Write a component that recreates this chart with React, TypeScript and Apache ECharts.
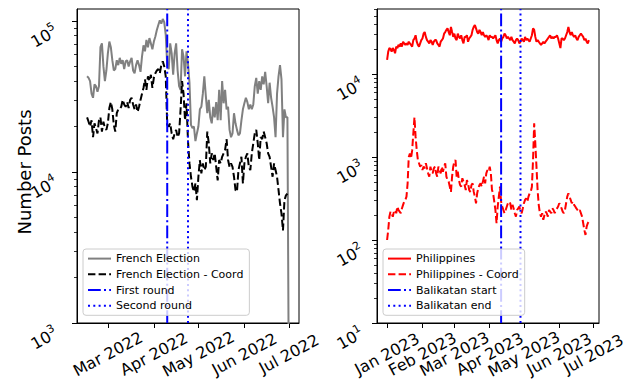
import React, { useEffect, useRef } from "react";
import * as echarts from "echarts";

const FONT = "DejaVu Sans";
const DAY = 86400000;

// ---- Left panel: French election (daily, starting 2022-02-15) ----
const frenchStart = "2022-02-15";
const frenchElection = [
  43000, 42000, 40000, 33000, 31000, 38000, 37000, 34000, 37000, 67000,
  71000, 50000, 40000, 47000, 61000, 73000, 67000, 55000, 47000, 48000,
  55000, 51000, 57000, 52000, 55000, 48000, 54000, 55000, 50000, 54000,
  57000, 47000, 45000, 51000, 55000, 51000, 46000, 58000, 69000, 63000,
  75000, 67000, 77000, 71000, 65000, 73000, 79000, 87000, 94000, 101000,
  96000, 103000, 98000, 81000, 51000, 48000, 71000, 61000, 44000, 61000,
  71000, 47000, 37000, 35000, 65000, 58000, 43000, 63000, 52000, 39000,
  20500, 19500, 20000, 16000, 18000, 20000, 26000, 27000, 33000, 43000,
  32000, 24500, 30000, 23000, 21000, 27000, 23000, 29000, 22000, 35000,
  22000, 40000, 28500, 35000, 26000, 27000, 19000, 17000, 18000, 24500,
  21000, 19000, 17500, 18000, 22000, 26000, 28500, 31000, 29000, 26000,
  28000, 26000, 28000, 37000, 42000, 33000, 40000, 35000, 43000, 38000,
  46000, 37000, 28500, 39000, 31000, 27000, 23000, 17000, 33000, 43000,
  51000, 41000, 17000, 26000, 23000, 23000, 300,
];
const frenchCoord = [
  23000, 21500, 20000, 22000, 17000, 21000, 19500, 18000, 22000, 23000,
  18500, 21500, 19500, 19000, 21000, 26500, 29000, 26000, 20500, 18500,
  24500, 26000, 26000, 27000, 30000, 28000, 27000, 29000, 26500, 30000,
  31000, 28000, 26000, 28000, 25000, 27000, 30000, 33000, 36000, 41000,
  35000, 43000, 40000, 44000, 36000, 42000, 45000, 47000, 48000, 45000,
  51000, 54000, 50000, 43000, 20500, 20000, 21000, 18000, 16500, 18000,
  19000, 17000, 18000, 26000, 40000, 33000, 22000, 28500, 16000, 11400,
  9300, 8000, 7400, 8400, 6500, 9300, 12000, 9800, 11400, 10300,
  10800, 18500, 15500, 11400, 13300, 12000, 13300, 10800, 8800, 12000,
  11400, 12600, 13300, 14000, 16500, 12000, 10800, 11400, 10800, 9300,
  7600, 7400, 10300, 11400, 12600, 8400, 11400, 12600, 13300, 10800,
  10300, 13300, 15500, 18000, 19000, 15500, 12000, 17000, 16500, 18500,
  17000, 15500, 13300, 12600, 10800, 9300, 11400, 10300, 9300, 7600,
  6200, 5300, 4100, 6500, 7000, 7200,
];
const frenchEvents = ["First round", "Second round"];
const frenchEventDates = ["2022-04-10", "2022-04-24"];
const frenchTickDates = ["2022-03-01", "2022-04-01", "2022-05-01", "2022-06-01", "2022-07-01"];
const frenchTickLabels = ["Mar 2022", "Apr 2022", "May 2022", "Jun 2022", "Jul 2022"];

// ---- Right panel: Philippines (daily, starting 2023-01-01) ----
const phStart = "2023-01-01";
const philippines = [
  14800, 18600, 20500, 20000, 18600, 20500, 19500, 17800, 21400, 20500,
  22400, 21400, 23400, 21400, 24500, 23400, 22400, 23400, 22400, 24500,
  23400, 22400, 21400, 25600, 26800, 29300, 24500, 22400, 21400, 23400,
  25600, 26800, 30600, 32000, 28000, 25600, 24500, 23400, 25600, 24500,
  22400, 24500, 25600, 25600, 23400, 22400, 21400, 24500, 25600, 26800,
  30600, 32000, 34000, 35500, 32000, 29300, 37000, 32000, 28000, 30600,
  26800, 25600, 30600, 28000, 26800, 29300, 25600, 23400, 28000, 28000,
  29300, 24500, 26800, 28000, 29300, 34000, 37000, 39000, 35500, 32000,
  30600, 34000, 32000, 29300, 32000, 29300, 28000, 29300, 28000, 25600,
  29300, 28000, 28000, 26800, 28000, 29300, 25600, 23400, 25600, 26800,
  24500, 26800, 28000, 30600, 29300, 26800, 28000, 26800, 25600, 28000,
  25600, 24500, 23400, 25600, 26800, 25600, 23400, 24500, 26800, 25600,
  24500, 28000, 25600, 26800, 25600, 24500, 26800, 29300, 35500, 34000,
  28000, 24500, 25600, 24500, 23400, 22400, 23400, 24500, 23400, 24500,
  25600, 26800, 28000, 29300, 26800, 28000, 26800, 28000, 28000, 29300,
  26800, 23400, 20500, 26800, 26800, 25600, 26800, 29300, 32000, 37000,
  32000, 29300, 32000, 29300, 28000, 29300, 26800, 25600, 28000, 29300,
  30600, 29300, 28000, 25600, 26800, 24500, 23400, 25600,
];
const philippinesCoord = [
  100, 132, 191, 220, 210, 191, 220, 230, 210, 253,
  230, 220, 210, 240, 265, 290, 304, 333, 482, 1000,
  1100, 960, 1210, 1920, 3000, 1760, 1210, 920, 840, 765,
  800, 697, 765, 730, 840, 730, 636, 580, 765, 665,
  636, 730, 765, 636, 580, 765, 697, 636, 765, 665,
  765, 840, 580, 528, 505, 439, 380, 580, 765, 880,
  920, 580, 665, 528, 460, 439, 555, 505, 460, 400,
  528, 482, 400, 380, 460, 482, 380, 333, 277, 365,
  420, 460, 482, 439, 505, 580, 482, 636, 697, 665,
  765, 636, 400, 365, 290, 230, 159, 253, 333, 439,
  290, 253, 230, 210, 230, 253, 277, 290, 277, 230,
  265, 240, 210, 191, 230, 240, 253, 220, 210, 240,
  277, 304, 318, 290, 333, 365, 380, 439, 920, 2550,
  1460, 765, 400, 265, 210, 191, 210, 175, 200, 220,
  210, 191, 230, 220, 210, 240, 230, 210, 230, 240,
  253, 277, 265, 240, 220, 210, 230, 277, 333, 365,
  333, 304, 277, 290, 265, 253, 240, 230, 220, 230,
  210, 191, 159, 132, 115, 145, 159, 167,
];
const phEvents = ["Balikatan start", "Balikatan end"];
const phEventDates = ["2023-04-11", "2023-04-28"];
const phTickDates = ["2023-01-01", "2023-02-01", "2023-03-01", "2023-04-01", "2023-05-01", "2023-06-01", "2023-07-01"];
const phTickLabels = ["Jan 2023", "Feb 2023", "Mar 2023", "Apr 2023", "May 2023", "Jun 2023", "Jul 2023"];

const leftMajorTicks = [1e3, 1e4, 1e5];
const leftMinorTicks = [2e3, 3e3, 4e3, 5e3, 6e3, 7e3, 8e3, 9e3, 2e4, 3e4, 4e4, 5e4, 6e4, 7e4, 8e4, 9e4];
const rightMajorTicks = [1e1, 1e2, 1e3, 1e4];
const rightMinorTicks = [20, 30, 40, 50, 60, 70, 80, 90, 200, 300, 400, 500, 600, 700, 800, 900,
  2000, 3000, 4000, 5000, 6000, 7000, 8000, 9000, 20000, 30000, 40000, 50000, 60000];

const LEFT_Y = [1000, 120000];
const RIGHT_Y = [10, 60700];

const t = (s: string) => Date.parse(s + "T00:00:00Z");
const toSeries = (start: string, vals: number[]) => vals.map((v, i) => [t(start) + i * DAY, v]);

export default function App() {
  const ref = useRef<HTMLDivElement>(null);
  useEffect(() => {
    if (!ref.current) return;
    const chart = echarts.init(ref.current, undefined, { renderer: "svg" });

    const frTicks = frenchTickDates.map(t);
    const phTicks = phTickDates.map(t);
    const frMin = t(frenchStart) - 6.8 * DAY;
    const frMax = t(frenchStart) + 136 * DAY + 6.8 * DAY;
    const phMin = t(phStart) - 8.85 * DAY;
    const phMax = t(phStart) + 177 * DAY + 8.85 * DAY;

    const xAxisBase = (gridIndex: number, min: number, max: number, ticks: number[], labels: string[]) => ({
      type: "value",
      gridIndex,
      min,
      max,
      scale: true,
      splitLine: { show: false },
      axisLine: { show: true, lineStyle: { color: "#000", width: 1 } },
      axisTick: { show: true, customValues: ticks, length: 5, lineStyle: { color: "#000", width: 1 } },
      axisLabel: {
        customValues: ticks,
        formatter: (v: number) => {
          const idx = ticks.findIndex((x) => Math.abs(x - v) < DAY / 2);
          return idx >= 0 ? labels[idx] : "";
        },
        rotate: 28,
        align: "center",
        verticalAlign: "middle",
        margin: 31,
        fontSize: 16,
        fontFamily: FONT,
        color: "#000",
      },
    });

    const yMajor = (gridIndex: number, range: number[], ticks: number[], margin: number) => ({
      type: "log",
      logBase: 10,
      gridIndex,
      min: range[0],
      max: range[1],
      position: "left",
      splitLine: { show: false },
      axisLine: { show: true, lineStyle: { color: "#000", width: 1 } },
      axisTick: { show: true, customValues: ticks, length: 5, lineStyle: { color: "#000", width: 1 } },
      axisLabel: {
        customValues: ticks,
        formatter: (v: number) => `{b|10}{e|${Math.round(Math.log10(v))}}`,
        rotate: 30,
        margin,
        padding: [20, 0, 0, 0],
        rich: {
          b: { fontSize: 16, fontFamily: FONT, color: "#000" },
          e: { fontSize: 11, fontFamily: FONT, color: "#000", padding: [0, 0, 10, 0] },
        },
      },
    });
    const yMinor = (gridIndex: number, range: number[], ticks: number[]) => ({
      type: "log",
      logBase: 10,
      gridIndex,
      min: range[0],
      max: range[1],
      position: "left",
      splitLine: { show: false },
      axisLine: { show: false },
      axisLabel: { show: false },
      axisTick: { show: true, customValues: ticks, length: 3, lineStyle: { color: "#000", width: 0.8 } },
    });

    const lineSeries = (name: string, data: any[], color: string, type: any, xi: number, yi: number) => ({
      name,
      type: "line",
      xAxisIndex: xi,
      yAxisIndex: yi,
      data,
      symbol: "none",
      showSymbol: false,
      silent: true,
      lineStyle: { color, width: 2, type },
      itemStyle: { color },
    });

    const DASHED = [7.4, 3.2];
    const DASHDOT = [12.8, 3.2, 2, 3.2];
    const DOTTED = [2, 3.3];

    const legendBase = {
      orient: "vertical",
      top: 249,
      itemWidth: 23,
      itemHeight: 14,
      itemGap: 4.5,
      padding: [4, 6, 4, 4],
      backgroundColor: "rgba(255,255,255,0.8)",
      borderColor: "#cccccc",
      borderWidth: 1,
      borderRadius: 3,
      textStyle: { fontSize: 11, fontFamily: FONT, color: "#000" },
      itemStyle: { color: "rgba(0,0,0,0)", borderWidth: 0 },
      lineStyle: { width: 2 },
      selectedMode: false,
    };

    chart.setOption({
      animation: false,
      backgroundColor: "#fff",
      grid: [
        { left: 77, top: 9, width: 222, height: 314, show: true, borderColor: "#000", borderWidth: 1 },
        { left: 377, top: 9, width: 222, height: 314, show: true, borderColor: "#000", borderWidth: 1 },
      ],
      xAxis: [
        xAxisBase(0, frMin, frMax, frTicks, frenchTickLabels),
        xAxisBase(1, phMin, phMax, phTicks, phTickLabels),
      ],
      yAxis: [
        yMajor(0, LEFT_Y, leftMajorTicks, 26),
        yMinor(0, LEFT_Y, leftMinorTicks),
        yMajor(1, RIGHT_Y, rightMajorTicks, 20),
        yMinor(1, RIGHT_Y, rightMinorTicks),
      ],
      legend: [
        { ...legendBase, left: 83, data: ["French Election", "French Election - Coord", ...frenchEvents] },
        { ...legendBase, left: 383, data: ["Philippines", "Philippines - Coord", ...phEvents] },
      ],
      graphic: [
        {
          type: "text",
          x: 24,
          y: 172,
          rotation: Math.PI / 2,
          style: {
            text: "Number Posts",
            fontSize: 18,
            fontFamily: FONT,
            fill: "#000",
            align: "center",
            verticalAlign: "middle",
          },
        },
      ],
      series: [
        lineSeries("French Election", toSeries(frenchStart, frenchElection), "#808080", "solid", 0, 0),
        lineSeries("French Election - Coord", toSeries(frenchStart, frenchCoord), "#000000", DASHED, 0, 0),
        lineSeries(frenchEvents[0], [[t(frenchEventDates[0]), LEFT_Y[0]], [t(frenchEventDates[0]), LEFT_Y[1]]], "#0000ff", DASHDOT, 0, 0),
        lineSeries(frenchEvents[1], [[t(frenchEventDates[1]), LEFT_Y[0]], [t(frenchEventDates[1]), LEFT_Y[1]]], "#0000ff", DOTTED, 0, 0),
        lineSeries("Philippines", toSeries(phStart, philippines), "#ff0000", "solid", 1, 2),
        lineSeries("Philippines - Coord", toSeries(phStart, philippinesCoord), "#ff0000", DASHED, 1, 2),
        lineSeries(phEvents[0], [[t(phEventDates[0]), RIGHT_Y[0]], [t(phEventDates[0]), RIGHT_Y[1]]], "#0000ff", DASHDOT, 1, 2),
        lineSeries(phEvents[1], [[t(phEventDates[1]), RIGHT_Y[0]], [t(phEventDates[1]), RIGHT_Y[1]]], "#0000ff", DOTTED, 1, 2),
      ],
    });
    return () => chart.dispose();
  }, []);
  return <div ref={ref} style={{ position: "fixed", left: 0, top: 0, width: 629, height: 381 }} />;
}
